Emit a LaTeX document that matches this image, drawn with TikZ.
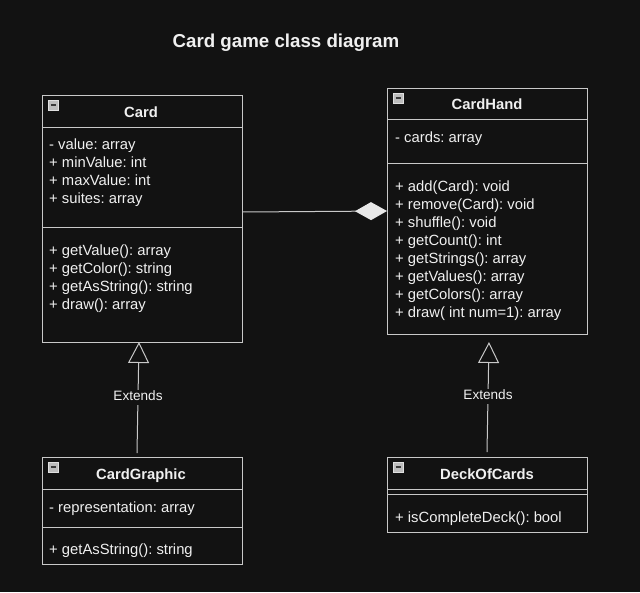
\documentclass[tikz,border=0pt]{standalone}
\usepackage{fontspec}
\setmainfont{Liberation Sans}
\usetikzlibrary{arrows.meta}
\frenchspacing
\definecolor{bg}{HTML}{121212}
\definecolor{ln}{HTML}{C8C8C8}
\definecolor{tx}{HTML}{F0F0F0}
\definecolor{iconfill}{HTML}{BDBDBD}
\definecolor{iconedge}{HTML}{E0E0E0}
\definecolor{icondash}{HTML}{3A3A3A}
\definecolor{dfill}{HTML}{E8E8E8}
\tikzset{
  classbox/.style={draw=ln, line width=1pt, fill=bg, inner sep=0, anchor=north west},
  sepline/.style={draw=ln, line width=1pt},
  mem/.style={text=tx, anchor=base west, inner sep=0, font=\fontsize{14.8}{18}\selectfont},
  hdr/.style={text=tx, anchor=base, inner sep=0, font=\fontsize{14.8}{18}\selectfont\bfseries},
  titletext/.style={text=tx, anchor=base, inner sep=0, font=\fontsize{18.7}{22}\selectfont\bfseries},
  iconsq/.style={draw=iconedge, fill=iconfill, line width=0.9pt, minimum size=10.5pt, inner sep=0, anchor=north west},
  gen/.style={draw=ln, line width=1pt, -{Triangle[open, length=21pt, width=21pt]}},
  comp/.style={draw=ln, line width=1pt, -{Diamond[length=32pt, width=18pt, fill=dfill, color=dfill]}},
  lbl/.style={text=tx, fill=bg, anchor=base, inner sep=1pt, text depth=3pt, font=\fontsize{13.6}{16}\selectfont},
}
\newcommand{\minusicon}[2]{%
  \node[iconsq] (#1) at (#2) {};
  \draw[icondash, line width=1.8pt] ([xshift=3pt]#1.west) -- ([xshift=-3pt]#1.east);
}
\begin{document}
\begin{tikzpicture}[x=1pt,y=-1pt]
\useasboundingbox[fill=bg] (0,0) rectangle (640,592);

\node[titletext] (title) at (286,47.7) {Card game class diagram};

% ---------- Card ----------
\node[classbox, minimum width=200pt, minimum height=247pt] (card) at (42,95) {};
\draw[sepline] (42,127) -- (242,127);
\draw[sepline] (42,227) -- (242,227);
\minusicon{cardicon}{47.5,99.5}
\node[hdr] (cardname) at (141,117) {Card};
\node[mem] (c1) at (49,149) {- value: array};
\node[mem] (c2) at (49,167) {+ minValue: int};
\node[mem] (c3) at (49,185) {+ maxValue: int};
\node[mem] (c4) at (49,203) {+ suites: array};
\node[mem] (c5) at (49,255) {+ getValue(): array};
\node[mem] (c6) at (49,273) {+ getColor(): string};
\node[mem] (c7) at (49,291) {+ getAsString(): string};
\node[mem] (c8) at (49,309) {+ draw(): array};

% ---------- CardHand ----------
\node[classbox, minimum width=200pt, minimum height=246pt] (hand) at (387,88) {};
\draw[sepline] (387,119) -- (587,119);
\draw[sepline] (387,163) -- (587,163);
\minusicon{handicon}{392.5,92.5}
\node[hdr] (handname) at (487,109) {CardHand};
\node[mem] (h1) at (395,142) {- cards: array};
\node[mem] (h2) at (395,191) {+ add(Card): void};
\node[mem] (h3) at (395,209) {+ remove(Card): void};
\node[mem] (h4) at (395,227) {+ shuffle(): void};
\node[mem] (h5) at (395,245) {+ getCount(): int};
\node[mem] (h6) at (395,263) {+ getStrings(): array};
\node[mem] (h7) at (395,281) {+ getValues(): array};
\node[mem] (h8) at (395,299) {+ getColors(): array};
\node[mem] (h9) at (395,317) {+ draw( int num=1): array};

% ---------- CardGraphic ----------
\node[classbox, minimum width=200pt, minimum height=107pt] (cg) at (42,457) {};
\draw[sepline] (42,489) -- (242,489);
\draw[sepline] (42,527) -- (242,527);
\minusicon{cgicon}{47.5,461.5}
\node[hdr] (cgname) at (141,479) {CardGraphic};
\node[mem] (g1) at (49,512) {- representation: array};
\node[mem] (g2) at (49,554) {+ getAsString(): string};

% ---------- DeckOfCards ----------
\node[classbox, minimum width=200pt, minimum height=75pt] (deck) at (387,457) {};
\draw[sepline] (387,489) -- (587,489);
\draw[sepline] (387,494) -- (587,494);
\minusicon{deckicon}{392.5,461.5}
\node[hdr] (deckname) at (487,479) {DeckOfCards};
\node[mem] (d1) at (395,522) {+ isCompleteDeck(): bool};

% ---------- connectors ----------
\coordinate (cgtop) at (137,453);
\coordinate (cardbot) at (139,342);
\draw[gen] (cgtop) -- (cardbot);
\node[lbl] (ext1) at (138,400.7) {Extends};

\coordinate (decktop) at (487,452);
\coordinate (handbot) at (489,342);
\draw[gen] (decktop) -- (handbot);
\node[lbl] (ext2) at (488,399.7) {Extends};

\coordinate (cardR) at (242,212);
\coordinate (handL) at (387,211);
\draw[comp] (cardR) -- (handL);
\end{tikzpicture}
\end{document}
